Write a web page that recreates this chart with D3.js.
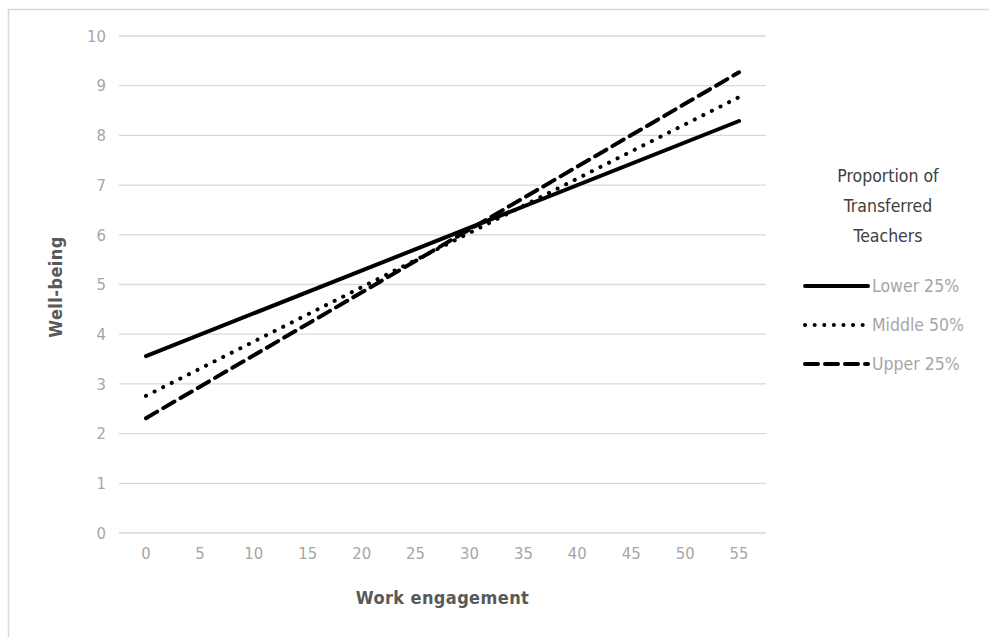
<!DOCTYPE html>
<html><head><meta charset="utf-8">
<script src="https://cdn.jsdelivr.net/npm/d3@7"></script>
<style>
body{margin:0;background:#fff;}
svg{display:block;}
</style></head>
<body>
<svg id="chart" width="989" height="637"></svg>
<script>
const xCategories = [0,5,10,15,20,25,30,35,40,45,50,55];
const yTicks = [0,1,2,3,4,5,6,7,8,9,10];
const seriesNames = ["Lower 25%","Middle 50%","Upper 25%"];
const seriesX = [0,55];
const lowerValues = [3.56,8.29];
const middleValues = [2.76,8.77];
const upperValues = [2.31,9.27];
const legendTitle = ["Proportion of","Transferred","Teachers"];

(function(){
const svg = d3.select("#chart");
const font = "'DejaVu Sans Condensed','Liberation Sans Narrow',Roboto,sans-serif";

svg.append("rect").attr("x",8.5).attr("y",9.5).attr("width",1000).attr("height",700)
  .attr("fill","#fff").attr("stroke","#d9d9d9").attr("stroke-width",1.5);

const pl=119,pr=766,pt=36,pb=533;
const x = d3.scaleBand().domain(xCategories).range([pl,pr]);
const y = d3.scaleLinear().domain([0,10]).range([pb,pt]);

svg.append("g").selectAll("line").data(yTicks).join("line")
  .attr("x1",pl).attr("x2",pr).attr("y1",d=>y(d)).attr("y2",d=>y(d))
  .attr("stroke","#d9d9d9").attr("stroke-width",1.3);

const ya = svg.append("g").attr("transform",`translate(${pl},0)`)
  .call(d3.axisLeft(y).tickValues(yTicks).tickSize(0).tickPadding(13));
ya.select(".domain").remove();
ya.selectAll("text").attr("font-family",font).attr("font-size",16.5).attr("fill","#a6a6a6");

const xa = svg.append("g").attr("transform",`translate(0,${pb})`)
  .call(d3.axisBottom(x).tickSize(0).tickPadding(14));
xa.select(".domain").remove();
xa.selectAll("text").attr("font-family",font).attr("font-size",16.5).attr("fill","#a6a6a6");

svg.append("text").attr("x",(pl+pr)/2).attr("y",604).attr("text-anchor","middle")
  .attr("font-family",font).attr("font-size",18).attr("font-weight","bold").attr("fill","#595959")
  .attr("letter-spacing",0.4).text("Work engagement");
svg.append("text").attr("transform","translate(62,287) rotate(-90)").attr("text-anchor","middle")
  .attr("font-family",font).attr("font-size",18).attr("font-weight","bold").attr("fill","#595959")
  .attr("letter-spacing",0.4).text("Well-being");

const styles = [
  {dash:null, cap:"round"},
  {dash:"0.1 9.5", cap:"round"},
  {dash:"13 7", cap:"round"}
];
const allValues = [lowerValues, middleValues, upperValues];
const line = d3.line().x(d=>x(d[0])+x.bandwidth()/2).y(d=>y(d[1]));
allValues.forEach((vals,i)=>{
  svg.append("path").datum(seriesX.map((xv,j)=>[xv,vals[j]]))
    .attr("d",line).attr("fill","none").attr("stroke","#000").attr("stroke-width",4)
    .attr("stroke-linecap",styles[i].cap)
    .attr("stroke-dasharray",styles[i].dash);
});

const lg = svg.append("g");
lg.selectAll("text.t").data(legendTitle).join("text").attr("class","t")
  .attr("x",888).attr("y",(d,i)=>182+i*30).attr("text-anchor","middle")
  .attr("font-family",font).attr("font-size",17.5).attr("fill","#404040").text(d=>d);
const ly = [286,325,364];
seriesNames.forEach((n,i)=>{
  lg.append("line").attr("x1",805).attr("x2",868).attr("y1",ly[i]).attr("y2",ly[i])
    .attr("stroke","#000").attr("stroke-width",4).attr("stroke-linecap",styles[i].cap)
    .attr("stroke-dasharray",styles[i].dash);
  lg.append("text").attr("x",872).attr("y",ly[i]+6).attr("font-family",font)
    .attr("font-size",17.5).attr("fill","#a6a6a6").text(n);
});
})();
</script>
</body></html>
